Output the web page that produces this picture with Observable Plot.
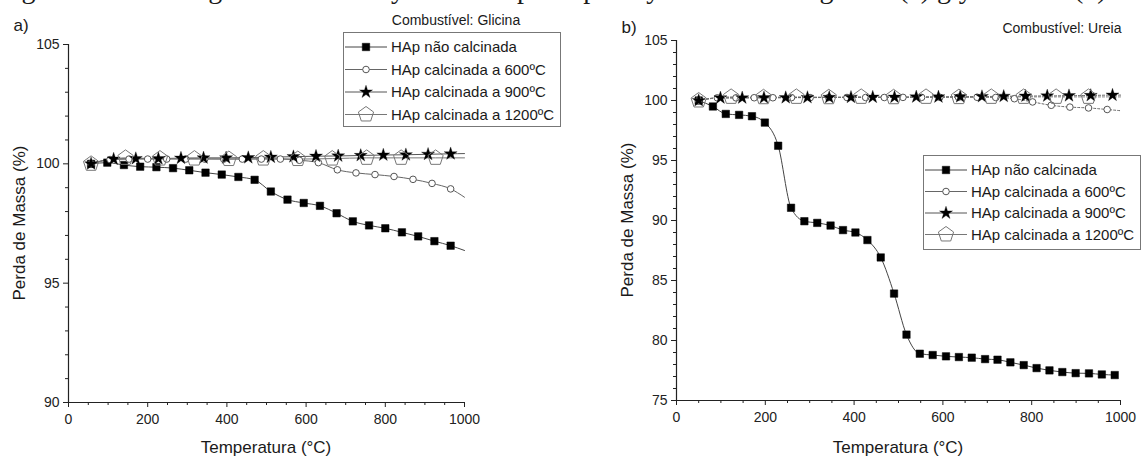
<!DOCTYPE html>
<html><head><meta charset="utf-8">
<script src="https://cdn.jsdelivr.net/npm/d3@7"></script>
<script src="https://cdn.jsdelivr.net/npm/@observablehq/plot@0.6"></script>
<style>
html,body{margin:0;padding:0;background:#fff;}
#root{position:relative;width:1142px;height:459px;overflow:hidden;font-family:"Liberation Sans",Arial,sans-serif;color:#1a1a1a;}
.abs{position:absolute;white-space:nowrap;line-height:1;}
.panel{position:absolute;top:0;}
</style></head><body><div id="root"></div>
<script>
// ---------- data ----------
const seriesNames = ["HAp não calcinada", "HAp calcinada a 600ºC", "HAp calcinada a 900ºC", "HAp calcinada a 1200ºC"];
const xTicks = [0, 200, 400, 600, 800, 1000];
const yTicksA = [90, 95, 100, 105];
const yTicksB = [75, 80, 85, 90, 95, 100, 105];
const lineEndT = 1000;

// Panel a) Combustível: Glicina
const aRawT = [57, 98, 140, 181, 222, 264, 305, 346, 387, 429, 470, 511, 553, 594, 635, 677, 718, 759, 800, 842, 883, 924, 965];
const aRawV = [100.0, 100.05, 99.95, 99.88, 99.86, 99.82, 99.73, 99.63, 99.55, 99.45, 99.33, 98.84, 98.5, 98.36, 98.24, 97.93, 97.59, 97.42, 97.30, 97.13, 96.96, 96.76, 96.57];
const a600T = [57, 105, 153, 200, 248, 296, 344, 392, 439, 487, 535, 583, 631, 679, 726, 774, 822, 870, 918, 965];
const a600V = [100.0, 100.18, 100.2, 100.2, 100.2, 100.2, 100.2, 100.2, 100.2, 100.2, 100.2, 100.15, 100.05, 99.75, 99.62, 99.55, 99.47, 99.35, 99.18, 98.95];
const a900T = [57, 114, 170, 227, 284, 341, 398, 454, 511, 568, 625, 681, 738, 795, 852, 908, 965];
const a900V = [100.0, 100.2, 100.22, 100.22, 100.24, 100.25, 100.25, 100.26, 100.28, 100.3, 100.32, 100.33, 100.35, 100.37, 100.38, 100.4, 100.42];
const a1200T = [57, 144, 231, 318, 405, 492, 579, 666, 753, 840, 927];
const a1200V = [100.0, 100.25, 100.22, 100.22, 100.2, 100.22, 100.2, 100.22, 100.25, 100.25, 100.25];
const aLineEndV = [96.37, 98.6, 100.43, 100.25];

// Panel b) Combustível: Ureia
const bRawT = [50, 82, 111, 141, 170, 199, 229, 258, 288, 317, 347, 375, 403, 430, 460, 490, 518, 548, 577, 607, 636, 665, 695, 723, 752, 782, 811, 840, 869, 899, 929, 958, 987];
const bRawV = [100.0, 99.5, 98.88, 98.8, 98.69, 98.16, 96.23, 91.06, 89.94, 89.8, 89.58, 89.2, 89.0, 88.37, 86.92, 83.91, 80.49, 78.9, 78.79, 78.68, 78.62, 78.57, 78.45, 78.4, 78.18, 77.95, 77.7, 77.51, 77.37, 77.28, 77.26, 77.17, 77.12];
const b600T = [50, 92, 134, 175, 217, 259, 301, 343, 384, 426, 468, 510, 552, 593, 635, 677, 719, 761, 802, 844, 886, 928, 970];
const b600V = [100.0, 100.22, 100.22, 100.23, 100.23, 100.24, 100.24, 100.25, 100.25, 100.25, 100.25, 100.26, 100.26, 100.27, 100.27, 100.27, 100.25, 100.15, 99.88, 99.6, 99.45, 99.38, 99.25];
const b900T = [50, 99, 148, 197, 246, 295, 344, 393, 442, 491, 540, 590, 639, 688, 737, 786, 835, 884, 933, 982];
const b900V = [100.0, 100.22, 100.22, 100.23, 100.24, 100.25, 100.26, 100.27, 100.28, 100.28, 100.3, 100.3, 100.32, 100.33, 100.35, 100.37, 100.38, 100.4, 100.42, 100.45];
const b1200T = [50, 123, 196, 270, 343, 416, 489, 562, 636, 709, 782, 855, 928];
const b1200V = [100.0, 100.3, 100.27, 100.3, 100.27, 100.3, 100.27, 100.3, 100.28, 100.3, 100.3, 100.3, 100.3];
const bLineEndV = [null, 99.15, 100.45, 100.3];

// ---------- helpers ----------
const pentagon = {
  draw(ctx, size) {
    const r = Math.sqrt(size / Math.PI);
    for (let i = 0; i < 5; i++) {
      const a = -Math.PI / 2 + i * 2 * Math.PI / 5;
      const x = r * Math.cos(a), y = r * Math.sin(a);
      if (i) ctx.lineTo(x, y); else ctx.moveTo(x, y);
    }
    ctx.closePath();
  }
};
const markerStyles = [
  {symbol: "square", r: 4.2, fill: "#000", stroke: "#000", strokeWidth: 0.5},
  {symbol: "circle", r: 3.3, fill: "#fff", stroke: "#555", strokeWidth: 1},
  {symbol: d3.symbolStar, r: 4.1, fill: "#000", stroke: "#000", strokeWidth: 0.3},
  {symbol: pentagon, r: 8, fill: "none", stroke: "#777", strokeWidth: 1}
];
const lineColors = ["#444", "#666", "#555", "#777"];

const zip = (T, V) => T.map((t, i) => ({t, v: V[i]}));
const fmt = d3.format("d");

function makePanel({series, ends, yDomain, yTicks, ml, mr, mt, mb, dashed}) {
  const [y0, y1] = yDomain;
  const xMinor = d3.range(0, 1001, 50).filter(d => !xTicks.includes(d));
  const yMinor = d3.range(y0, y1 + 0.001, 1).filter(d => !yTicks.includes(d));
  const marks = [];
  series.forEach((s, i) => {
    const pts = s.slice();
    if (ends[i] != null) pts.push({t: lineEndT, v: ends[i]});
    marks.push(Plot.line(pts, {x: "t", y: "v", curve: "monotone-x", stroke: lineColors[i], strokeWidth: 1,
      strokeDasharray: (dashed && i > 0) ? "2,2" : null}));
  });
  series.forEach((s, i) => {
    const m = markerStyles[i];
    marks.push(Plot.dot(s, {x: "t", y: "v", symbol: m.symbol, r: m.r, fill: m.fill, stroke: m.stroke, strokeWidth: m.strokeWidth}));
  });
  marks.push(
    Plot.ruleX([0], {y1: y0, y2: y1, stroke: "#222", strokeWidth: 1.2}),
    Plot.ruleY([y0], {x1: 0, x2: 1000, stroke: "#222", strokeWidth: 1.2}),
    Plot.axisX(xTicks, {tickSize: 5, tickPadding: 7, fontSize: 14, stroke: "#222", fill: "#222", label: null, tickFormat: fmt}),
    Plot.axisX(xMinor, {tickSize: 3, tickFormat: () => "", stroke: "#222", label: null}),
    Plot.axisY(yTicks, {tickSize: 5, tickPadding: 4, fontSize: 14, stroke: "#222", fill: "#222", label: null, tickFormat: fmt}),
    Plot.axisY(yMinor, {tickSize: 3, tickFormat: () => "", stroke: "#222", label: null})
  );
  return Plot.plot({
    width: 571, height: 459,
    marginLeft: ml, marginRight: mr, marginTop: mt, marginBottom: mb,
    x: {domain: [0, 1000], label: null},
    y: {domain: yDomain, label: null},
    style: {fontFamily: '"Liberation Sans", Arial, sans-serif', fontSize: "14px", color: "#1a1a1a", background: "transparent", overflow: "visible"},
    marks
  });
}

function makeLegend(root, left, top, w, h, rowY, rowH) {
  const svg = d3.select(root).append("svg").attr("class", "abs")
    .style("left", left + "px").style("top", top + "px")
    .attr("width", w).attr("height", h);
  svg.append("rect").attr("x", 0.5).attr("y", 0.5).attr("width", w - 1).attr("height", h - 1)
    .attr("fill", "#fff").attr("stroke", "#777");
  seriesNames.forEach((name, i) => {
    const y = rowY + i * rowH;
    const g = svg.append("g");
    g.append("line").attr("x1", 2).attr("x2", 44).attr("y1", y).attr("y2", y).attr("stroke", lineColors[i]).attr("stroke-width", 1);
    const m = markerStyles[i];
    const type = m.symbol === "square" ? d3.symbolSquare : m.symbol === "circle" ? d3.symbolCircle : m.symbol;
    g.append("path").attr("transform", `translate(23,${y})`)
      .attr("d", d3.symbol(type, m.r * m.r * Math.PI)())
      .attr("fill", m.fill).attr("stroke", m.stroke).attr("stroke-width", m.strokeWidth);
    g.append("text").attr("x", 48).attr("y", y).attr("dy", "0.35em")
      .attr("font-family", '"Liberation Sans", Arial, sans-serif').attr("font-size", 15).attr("fill", "#1a1a1a").text(name);
  });
}

function addText(root, text, x, y, size, opts = {}) {
  const d = document.createElement("div");
  d.className = "abs";
  d.textContent = text;
  d.style.left = x + "px";
  d.style.top = y + "px";
  d.style.fontSize = size + "px";
  let tr = "translate(-50%,-50%)";
  if (opts.anchor === "start") tr = "translate(0,-50%)";
  if (opts.anchor === "end") tr = "translate(-100%,-50%)";
  if (opts.rotate) tr += ` rotate(${opts.rotate}deg)`;
  d.style.transform = tr;
  if (opts.font) d.style.fontFamily = opts.font;
  root.appendChild(d);
  return d;
}

// ---------- build ----------
const root = document.getElementById("root");

const pa = makePanel({
  series: [zip(aRawT, aRawV), zip(a600T, a600V), zip(a900T, a900V), zip(a1200T, a1200V)],
  ends: aLineEndV, yDomain: [90, 105], yTicks: yTicksA,
  ml: 68, mr: 107, mt: 44, mb: 57, dashed: false
});
pa.classList.add("panel"); pa.style.left = "0px";
root.appendChild(pa);

const pb = makePanel({
  series: [zip(bRawT, bRawV), zip(b600T, b600V), zip(b900T, b900V), zip(b1200T, b1200V)],
  ends: bLineEndV, yDomain: [75, 105], yTicks: yTicksB,
  ml: 105, mr: 22, mt: 40, mb: 59, dashed: true
});
pb.classList.add("panel"); pb.style.left = "571px";
root.appendChild(pb);

// cut-off caption at the very top (only the lower part of the line is visible)
const serif = '"Liberation Serif", "Times New Roman", serif';
addText(root, "Figure 4 – Thermogravimetric analyses of HAp samples synthesized using fuels", 895, -11, 28, {anchor: "end", font: serif});
addText(root, "(a) glycine and (b) urea", 899, -11, 28, {anchor: "start", font: serif});

// panel labels
addText(root, "a)", 21, 25, 17);
addText(root, "b)", 629, 27, 17);
addText(root, "Combustível: Glicina", 456, 20, 14);
addText(root, "Combustível: Ureia", 1062, 28, 14);

// axis titles
addText(root, "Perda de Massa (%)", 19, 223, 17, {rotate: -90});
addText(root, "Perda de Massa (%)", 627, 220, 17, {rotate: -90});
addText(root, "Temperatura (°C)", 266, 447, 17);
addText(root, "Temperatura (°C)", 898, 447, 17);

// legends
makeLegend(root, 343, 32, 218, 95, 15, 22.5);
makeLegend(root, 923, 155, 218, 95, 15, 21.5);
</script></body></html>
